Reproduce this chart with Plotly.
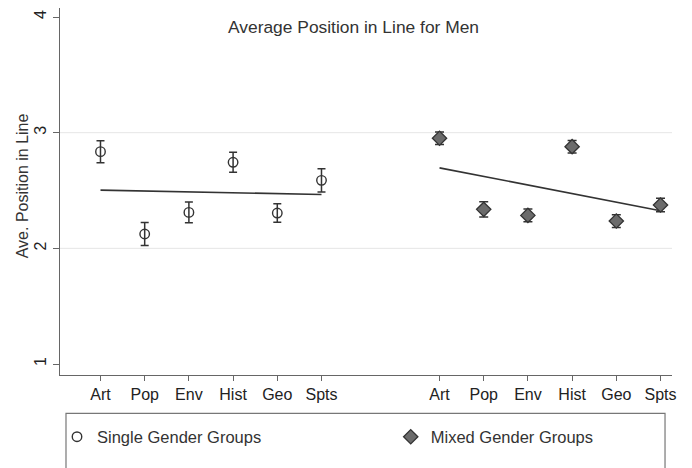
import numpy as np
import plotly.graph_objects as go

# ---- data ----
categories = ["Art", "Pop", "Env", "Hist", "Geo", "Spts"]
single_means = [2.836, 2.124, 2.311, 2.744, 2.305, 2.588]
single_err = [0.095, 0.100, 0.090, 0.087, 0.080, 0.100]
mixed_means = [2.952, 2.337, 2.285, 2.879, 2.236, 2.375]
mixed_err = [0.055, 0.065, 0.055, 0.054, 0.055, 0.058]
y_ticks = [1, 2, 3, 4]
grid_y = [2, 3]

# category positions on the x axis (two groups)
single_x = [1, 2, 3, 4, 5, 6]
mixed_x = [8.67, 9.67, 10.67, 11.67, 12.67, 13.67]

FONT = "Liberation Sans, Arial, sans-serif"
DARK = "#333333"

fig = go.Figure()

# linear fits
for xs, ys in [(single_x, single_means), (mixed_x, mixed_means)]:
    b, a = np.polyfit(xs, ys, 1)
    xe = [xs[0], xs[-1]]
    fig.add_trace(go.Scatter(
        x=xe, y=[a + b * v for v in xe], mode="lines",
        line=dict(color=DARK, width=1.6), showlegend=False, hoverinfo="skip"))

fig.add_trace(go.Scatter(
    x=single_x, y=single_means, mode="markers", name="Single Gender Groups",
    marker=dict(symbol="circle-open", size=9.5, color=DARK, line=dict(width=1.4, color=DARK)),
    error_y=dict(type="data", array=single_err, visible=True, color=DARK, thickness=1.5, width=4),
    legend="legend",
))
fig.add_trace(go.Scatter(
    x=mixed_x, y=mixed_means, mode="markers", name="Mixed Gender Groups",
    marker=dict(symbol="diamond", size=11, color="#6b6b6b", line=dict(width=1.3, color=DARK)),
    error_y=dict(type="data", array=mixed_err, visible=True, color=DARK, thickness=1.5, width=4.5),
    legend="legend2",
))

for g in grid_y:
    fig.add_hline(y=g, line=dict(color="#e6e6e6", width=1), layer="below")

# legend box (cut off by the bottom of the image)
fig.add_shape(type="rect", xref="paper", yref="paper",
              x0=0.0098, x1=0.9886, y0=-0.1044, y1=-0.50,
              line=dict(color="#777777", width=1.2), fillcolor="rgba(0,0,0,0)")

fig.add_annotation(text="Average Position in Line for Men", xref="paper", yref="paper",
                   x=0.4788, y=0.949, showarrow=False, xanchor="center", yanchor="middle",
                   font=dict(family=FONT, size=17.4, color=DARK))

fig.add_annotation(text="Ave. Position in Line", xref="paper", yref="paper",
                   x=-0.0600, y=0.515, showarrow=False, textangle=-90,
                   xanchor="center", yanchor="middle",
                   font=dict(family=FONT, size=16, color=DARK))

legend_common = dict(orientation="h", xanchor="left", yanchor="middle", y=-0.1689,
                     font=dict(family=FONT, size=16.5, color=DARK), bgcolor="rgba(0,0,0,0)")

fig.update_layout(
    width=692, height=468,
    margin=dict(l=52, r=28, t=0, b=101, autoexpand=False),
    paper_bgcolor="white", plot_bgcolor="white",
    font=dict(family=FONT, size=16, color=DARK),
    xaxis=dict(
        range=[0.084, 13.93], tickvals=single_x + mixed_x, ticktext=categories + categories,
        showgrid=False, zeroline=False, showline=True, linecolor="#666666", linewidth=1.3,
        ticks="outside", ticklen=5, tickcolor="#666666", tickfont=dict(size=16, color="#222222"),
        automargin=False,
    ),
    yaxis=dict(
        range=[0.905, 4.078], tickvals=y_ticks, tickangle=-90,
        showgrid=False, zeroline=False, showline=True, linecolor="#666666", linewidth=1.3,
        ticks="outside", ticklen=6, tickcolor="#666666", tickfont=dict(size=16, color="#222222"),
        automargin=False,
    ),
    legend=dict(x=-0.0049, **legend_common),
    legend2=dict(x=0.5404, **legend_common),
)

fig.write_html("out.html")
